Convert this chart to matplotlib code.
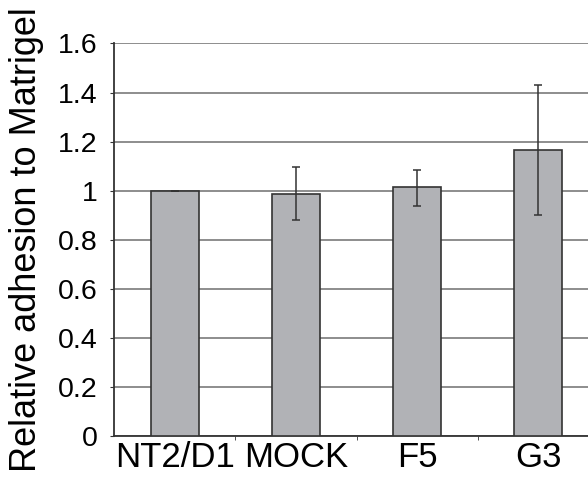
import numpy as np
import matplotlib.pyplot as plt

plt.rcParams['font.family'] = ['Liberation Sans', 'DejaVu Sans']

categories = ['NT2/D1', 'MOCK', 'F5', 'G3']
adhesion = [1.0, 0.988, 1.015, 1.165]
err_low = [0.0, 0.109, 0.077, 0.263]
err_high = [0.0, 0.107, 0.070, 0.266]

fig = plt.figure(figsize=(5.88, 4.79), dpi=100)
ax = fig.add_axes([0.1947, 0.0904, 0.8053, 0.8188])

x = np.arange(len(categories))
ax.bar(x, adhesion, width=0.4, color='#b1b2b6', edgecolor='#333333',
       linewidth=1.2, zorder=3)
ax.errorbar(x, adhesion, yerr=[err_low, err_high], fmt='none',
            ecolor='#333333', elinewidth=1.1, capsize=3, capthick=1.1, zorder=4)

ax.set_xlim(-0.5, 3.413)
ax.set_ylim(0, 1.6)
ax.set_yticks(np.arange(0, 1.61, 0.2))
ax.set_yticklabels(['0', '0.2', '0.4', '0.6', '0.8', '1', '1.2', '1.4', '1.6'])
ax.yaxis.grid(True, color='#858585', linewidth=1.3, zorder=0)

ax.set_xticks(x)
ax.set_xticklabels(categories, fontsize=25)
ax.tick_params(axis='x', length=0, pad=4)
ax.set_xticks(x[:-1] + 0.5, minor=True)
ax.tick_params(axis='x', which='minor', length=3, color='#333333')
ax.tick_params(axis='y', labelsize=20.5, length=3, color='#333333', pad=9)

for side in ['top', 'right']:
    ax.spines[side].set_visible(False)
for side in ['left', 'bottom']:
    ax.spines[side].set_color('#333333')
    ax.spines[side].set_linewidth(1.3)

ax.set_ylabel('Relative adhesion to Matrigel', fontsize=26)
ax.yaxis.set_label_coords(-0.149, 0.5)

fig.savefig('out.png', dpi=100)
